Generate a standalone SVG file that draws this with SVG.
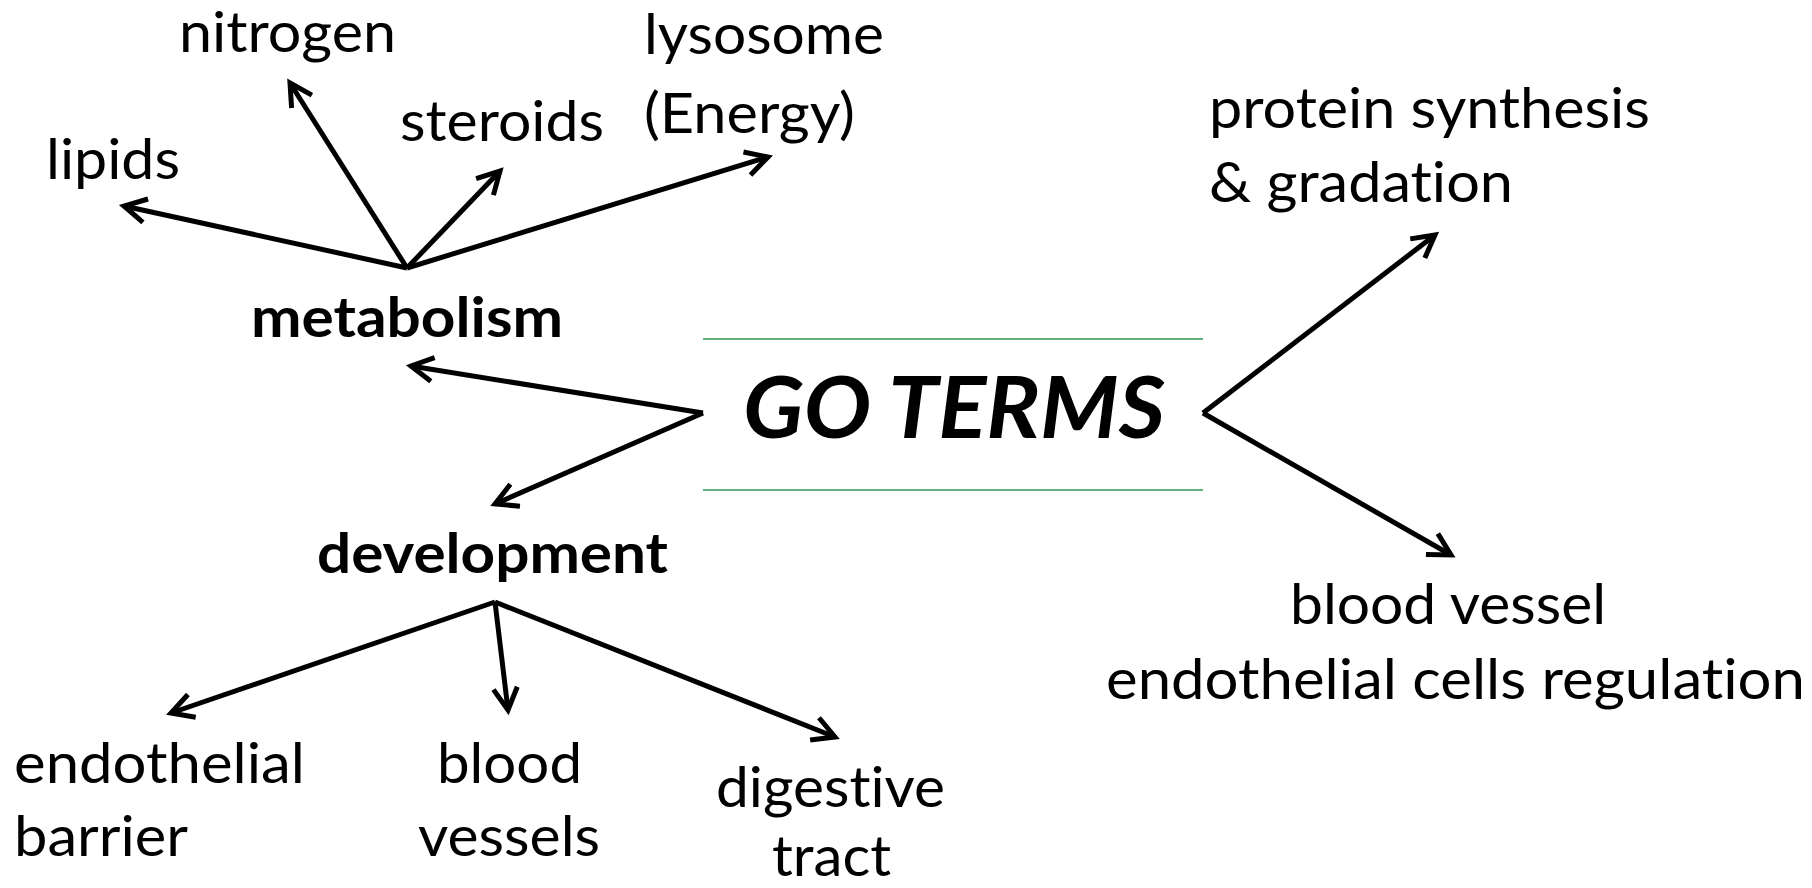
<svg xmlns="http://www.w3.org/2000/svg" width="1812" height="888" viewBox="0 0 1812 888">
<style>
.t{font-family:Lato,"Open Sans","Liberation Sans",sans-serif;font-size:56px;fill:#000;font-variant-ligatures:none;font-feature-settings:"liga" 0,"dlig" 0}
.b{font-weight:bold}
.go{font-family:Lato,"Open Sans","Liberation Sans",sans-serif;font-size:86px;font-weight:bold;font-style:italic;fill:#000}
.c{stroke:#000;stroke-width:5;fill:none;marker-end:url(#ah)}
.g{stroke:#2e9454;stroke-width:1.6}
</style>
<defs>
<marker id="ah" markerUnits="userSpaceOnUse" markerWidth="40" markerHeight="40" viewBox="-30 -20 40 40" refX="0" refY="0" orient="auto">
<path d="M-22,-12 L0,0 L-22,12" fill="none" stroke="#000" stroke-width="5"/>
</marker>
</defs>
<rect width="1812" height="888" fill="#fff"/>
<g id="connectors">
<line class="c" x1="407" y1="268" x2="124" y2="206"/>
<line class="c" x1="407" y1="268" x2="290" y2="83"/>
<line class="c" x1="407" y1="268" x2="500" y2="171"/>
<line class="c" x1="407" y1="268" x2="768" y2="157"/>
<line class="c" x1="703" y1="413" x2="411" y2="366"/>
<line class="c" x1="703" y1="413" x2="495" y2="504"/>
<line class="c" x1="1203" y1="413" x2="1435" y2="235"/>
<line class="c" x1="1203" y1="413" x2="1451" y2="555"/>
<line class="c" x1="495" y1="602" x2="171" y2="713"/>
<line class="c" x1="495" y1="602" x2="508" y2="710"/>
<line class="c" x1="495" y1="602" x2="835" y2="737"/>
</g>
<g id="go-terms">
<line class="g" x1="703" y1="339" x2="1203" y2="339"/>
<line class="g" x1="703" y1="490" x2="1203" y2="490"/>
<text class="go" x="743" y="438" textLength="422" lengthAdjust="spacingAndGlyphs">GO TERMS</text>
</g>
<g id="metabolism"><text class="t b" x="251" y="337" textLength="312" lengthAdjust="spacingAndGlyphs">metabolism</text></g>
<g id="development"><text class="t b" x="317" y="573" textLength="351" lengthAdjust="spacingAndGlyphs">development</text></g>
<g id="nitrogen"><text class="t" x="179" y="52" textLength="217" lengthAdjust="spacingAndGlyphs">nitrogen</text></g>
<g id="lysosome">
<text class="t" x="644" y="54" textLength="240" lengthAdjust="spacingAndGlyphs">lysosome</text>
<text class="t" x="644" y="133" textLength="211" lengthAdjust="spacingAndGlyphs">(Energy)</text>
</g>
<g id="steroids"><text class="t" x="400" y="141" textLength="204" lengthAdjust="spacingAndGlyphs">steroids</text></g>
<g id="lipids"><text class="t" x="46" y="179" textLength="134" lengthAdjust="spacingAndGlyphs">lipids</text></g>
<g id="protein">
<text class="t" x="1209" y="128" textLength="441" lengthAdjust="spacingAndGlyphs">protein synthesis</text>
<text class="t" x="1209" y="202" textLength="304" lengthAdjust="spacingAndGlyphs">&amp; gradation</text>
</g>
<g id="blood-vessel-regulation">
<text class="t" x="1290" y="624" textLength="316" lengthAdjust="spacingAndGlyphs">blood vessel</text>
<text class="t" x="1106" y="699" textLength="699" lengthAdjust="spacingAndGlyphs">endothelial cells regulation</text>
</g>
<g id="endothelial-barrier">
<text class="t" x="14" y="783" textLength="291" lengthAdjust="spacingAndGlyphs">endothelial</text>
<text class="t" x="14" y="856" textLength="174" lengthAdjust="spacingAndGlyphs">barrier</text>
</g>
<g id="blood-vessels">
<text class="t" x="437" y="783" textLength="145" lengthAdjust="spacingAndGlyphs">blood</text>
<text class="t" x="418" y="856" textLength="182" lengthAdjust="spacingAndGlyphs">vessels</text>
</g>
<g id="digestive-tract">
<text class="t" x="716" y="807" textLength="229" lengthAdjust="spacingAndGlyphs">digestive</text>
<text class="t" x="772" y="876" textLength="119" lengthAdjust="spacingAndGlyphs">tract</text>
</g>
</svg>
